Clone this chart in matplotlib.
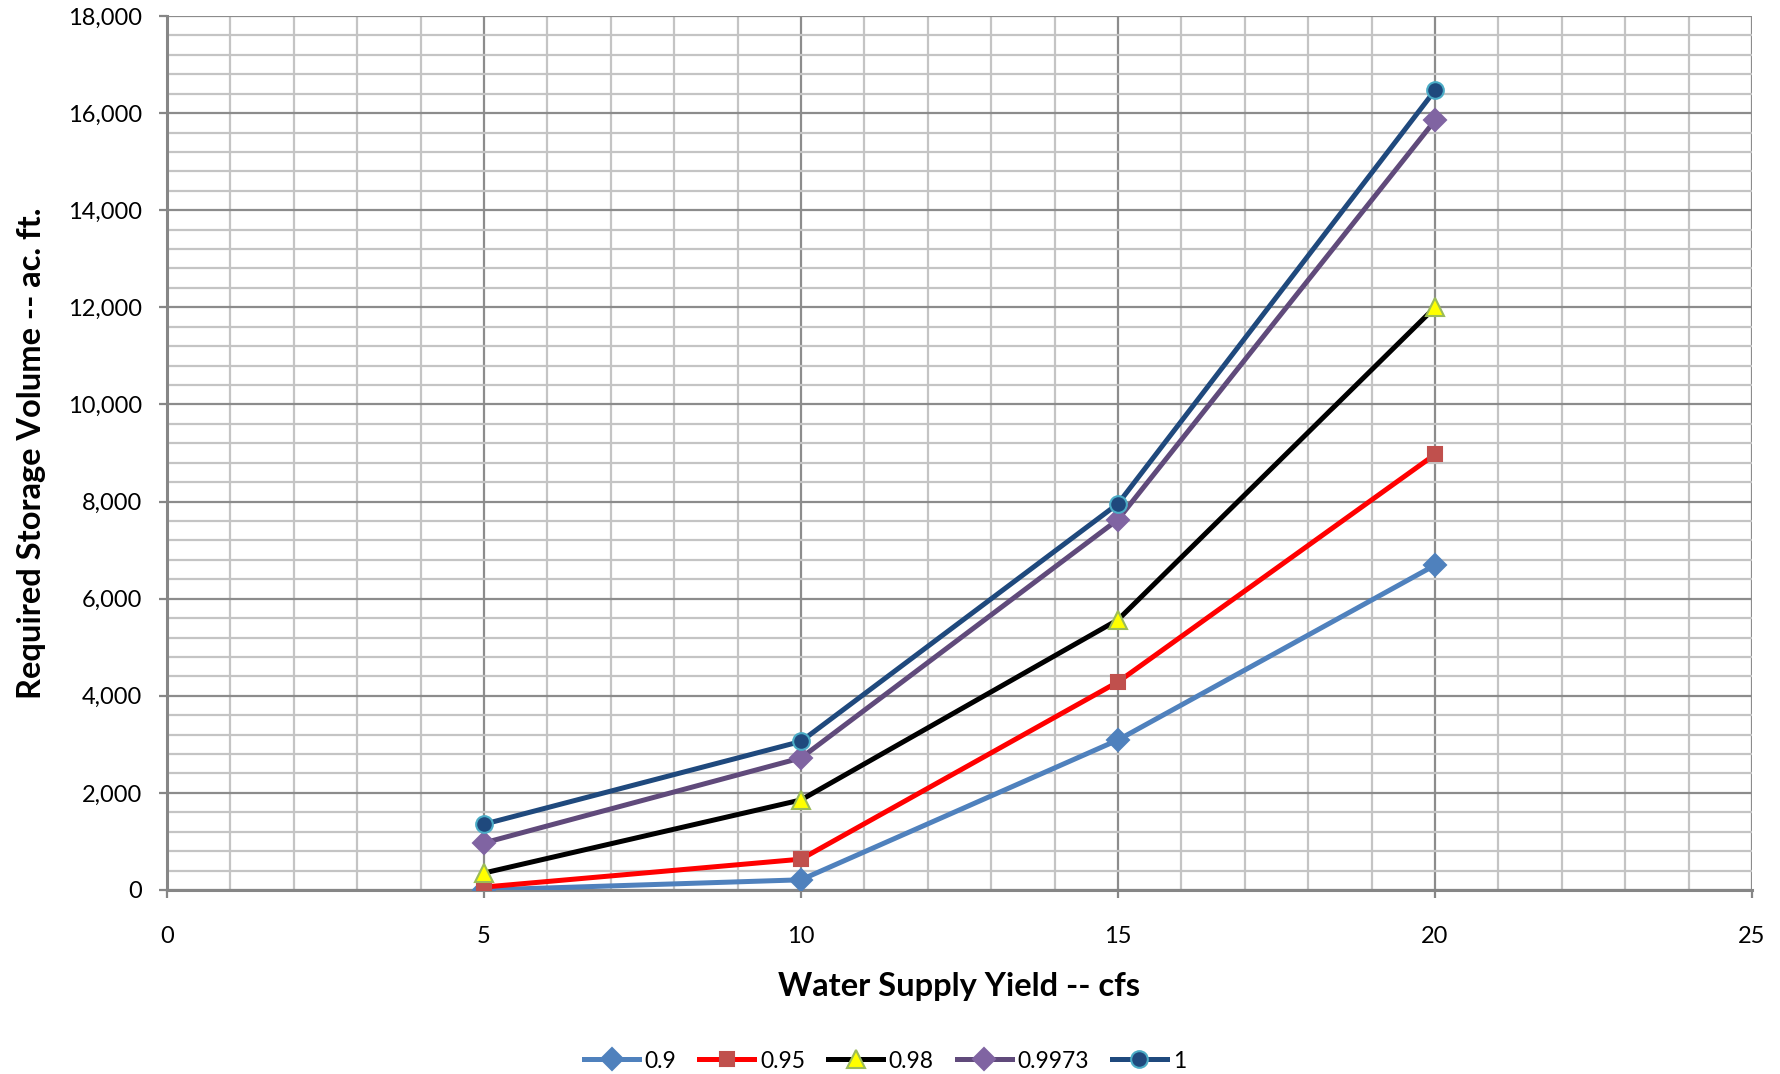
import matplotlib
matplotlib.use("Agg")
import matplotlib.pyplot as plt
from matplotlib.ticker import MultipleLocator, FuncFormatter

plt.rcParams["font.family"] = ["Lato", "DejaVu Sans"]

# water supply yield (cfs) and required storage (ac. ft.) per reliability
yields = [5, 10, 15, 20]
series_names = ["0.9", "0.95", "0.98", "0.9973", "1"]
storage_090 = [0, 210, 3090, 6690]
storage_095 = [60, 635, 4285, 8970]
storage_098 = [350, 1855, 5565, 12000]
storage_09973 = [970, 2720, 7630, 15850]
storage_100 = [1355, 3060, 7955, 16470]

styles = [
    # line colour, marker, face, edge, size
    ("#4F81BD", "D", "#4F81BD", "#4F81BD", 11),
    ("#FF0000", "s", "#C0504D", "#C0504D", 10),
    ("#000000", "^", "#FFFF00", "#9BBB59", 13),
    ("#604A7B", "D", "#8064A2", "#8064A2", 11),
    ("#1F497D", "o", "#1F497D", "#4BACC6", 12),
]
all_storage = [storage_090, storage_095, storage_098, storage_09973, storage_100]

fig = plt.figure(figsize=(17.81, 10.74), dpi=100)
ax = fig.add_axes([167 / 1781, 1 - 890 / 1074, (1752 - 167) / 1781, (890 - 16) / 1074])

for name, vals, (lc, mk, fc, ec, ms) in zip(series_names, all_storage, styles):
    ax.plot(yields, vals, color=lc, lw=3.6, marker=mk, markersize=ms,
            markerfacecolor=fc, markeredgecolor=ec, markeredgewidth=1.5,
            label=name, zorder=3)

ax.set_xlim(0, 25)
ax.set_ylim(0, 18000)
ax.xaxis.set_major_locator(MultipleLocator(5))
ax.xaxis.set_minor_locator(MultipleLocator(1))
ax.yaxis.set_major_locator(MultipleLocator(2000))
ax.yaxis.set_minor_locator(MultipleLocator(400))
ax.yaxis.set_major_formatter(FuncFormatter(lambda v, p: f"{int(v):,}"))

ax.grid(which="major", color="#8C8C8C", lw=1.6)
ax.grid(which="minor", color="#C4C4C4", lw=1.6)
ax.set_axisbelow(True)

for side in ["top", "right"]:
    ax.spines[side].set_visible(False)
for side in ["left", "bottom"]:
    ax.spines[side].set_color("#868686")
    ax.spines[side].set_linewidth(2.2)

ax.tick_params(which="major", direction="out", length=6, width=1.6,
               color="#868686", labelsize=17, pad=12)
ax.tick_params(which="minor", length=0)
ax.tick_params(axis="x", pad=20)

ax.set_xlabel("Water Supply Yield -- cfs", fontsize=23.5, fontweight="bold", labelpad=18)
ax.set_ylabel("Required Storage Volume -- ac. ft.", fontsize=23.5, fontweight="bold", labelpad=16)

fig.legend(*ax.get_legend_handles_labels(), loc="center",
           bbox_to_anchor=(885 / 1781, 1 - 1061 / 1074), ncol=5, frameon=False,
           fontsize=16.5, handlelength=2.4, handletextpad=0.25, columnspacing=1.0)

fig.savefig("out.png", dpi=100)
